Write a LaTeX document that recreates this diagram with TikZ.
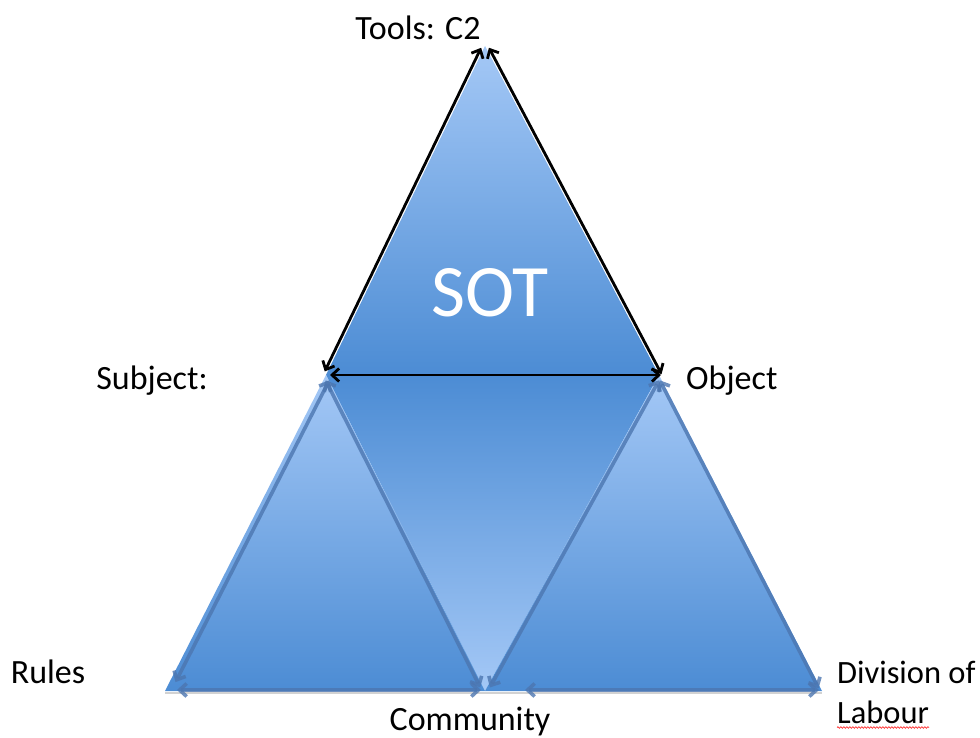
\documentclass[tikz,border=0pt]{standalone}
\usepackage{fontspec}
\setmainfont{Carlito}
\usepackage{tikz}
\usetikzlibrary{arrows.meta,decorations.pathmorphing}
\definecolor{paleblue}{RGB}{164,200,246}
\definecolor{midblue}{RGB}{76,140,212}
\definecolor{edgeblue}{RGB}{76,118,176}

\begin{document}
\begin{tikzpicture}[x=1pt, y=-1pt,
  lbl/.style={font=\fontsize{34}{40}\selectfont, inner sep=0pt, align=left},
  arr/.style={{Straight Barb[length=7pt,width=13pt]}-{Straight Barb[length=7pt,width=13pt]}, line width=2.8pt},
  barr/.style={arr, draw=edgeblue, opacity=0.8, line width=3.6pt},
  up/.style={top color=paleblue, bottom color=midblue},
  down/.style={top color=midblue, bottom color=paleblue},
]
  \useasboundingbox (0,0) rectangle (980,738);
  % corners of the triangles
  \coordinate (tools) at (485,46);
  \coordinate (subj) at (326,375);
  \coordinate (obj) at (659,375);
  \coordinate (rules) at (165,691);
  \coordinate (comm) at (485,691);
  \coordinate (div) at (822,691);

  % shadow under the base
  \draw[black!35, line width=2pt, opacity=0.5] ([yshift=-2pt]rules) -- ([yshift=-2pt]div);

  % filled triangles
  \shade[up] (tools) -- (obj) -- (subj) -- cycle;
  \shade[down] (subj) -- (obj) -- (comm) -- cycle;
  \shade[up] (subj) -- (comm) -- (rules) -- cycle;
  \shade[up] (obj) -- (div) -- (comm) -- cycle;

  % blue arrows of the lower triangles
  \draw[barr, shorten <=6pt, shorten >=10pt, transform canvas={xshift=6pt}] (subj) -- (rules);
  \draw[barr, shorten <=6pt, shorten >=4pt, transform canvas={xshift=-3pt}] (subj) -- (comm);
  \draw[barr, shorten <=12pt, shorten >=4pt, transform canvas={yshift=1pt}] (rules) -- (comm);
  \draw[barr, shorten <=6pt, shorten >=4pt, transform canvas={xshift=3pt}] (obj) -- (comm);
  \draw[barr, shorten <=6pt, shorten >=3pt, transform canvas={xshift=-2pt}] (obj) -- (div);
  \draw[barr, shorten <=40pt, shorten >=3pt, transform canvas={yshift=1pt}] (comm) -- (div);

  % black arrows of the top triangle
  \draw[arr, shorten <=2pt, shorten >=4pt, transform canvas={xshift=-3pt}] (tools) -- (subj);
  \draw[arr, shorten <=2pt, shorten >=1pt, transform canvas={xshift=3pt}] (tools) -- (obj);
  \draw[arr, shorten <=4pt, shorten >=-2pt] (subj) -- (obj);

  % labels
  \node[lbl] (toolslbl) at (418,28) {Tools: C2};
  \node[lbl] (subjlbl) at (152,381) {Subject:};
  \node[lbl, anchor=west] (objlbl) at (686,381) {Object};
  \node[lbl] (ruleslbl) at (48,672) {Rules};
  \node[lbl] (commlbl) at (470,722) {Community};
  \node[lbl, anchor=west, font=\fontsize{32.5}{40}\selectfont] (divlbl) at (837,692) {Division of\\Labour};
  \node[font=\fontsize{74}{80}\selectfont, text=white, inner sep=0pt] (sot) at (490,293) {SOT};

  % spell-check underline
  \draw[red!80, line width=0.7pt, decorate, decoration={snake, amplitude=0.8pt, segment length=3pt}]
    ([yshift=-4pt]divlbl.south west) -- ++(92,0);
\end{tikzpicture}
\end{document}
